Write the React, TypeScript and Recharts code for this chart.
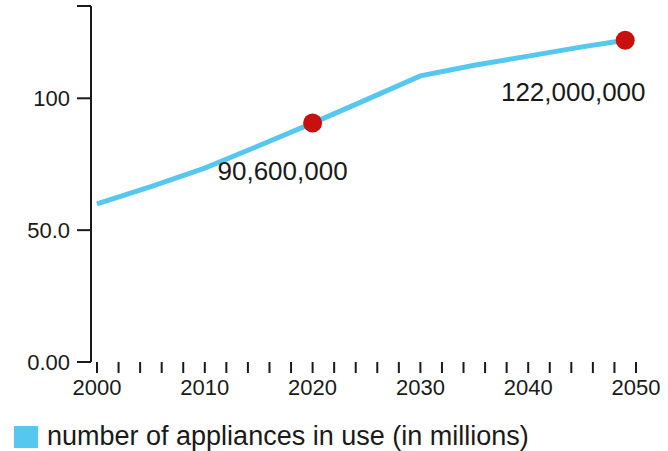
import { LineChart, Line, XAxis, YAxis, Legend } from 'recharts';

// appliances in use, millions
const years = [2000, 2005, 2010, 2015, 2020, 2025, 2030, 2035, 2040, 2045, 2049];
const appliances = [60, 66.5, 73.5, 82, 90.6, 99.5, 108.5, 112.5, 116, 119.5, 122];

// years that get a marker and a value label
const highlightYears = [2020, 2049];

const xTicks = [
  2000, 2002, 2004, 2006, 2008, 2010, 2012, 2014, 2016, 2018, 2020, 2022, 2024,
  2026, 2028, 2030, 2032, 2034, 2036, 2038, 2040, 2042, 2044, 2046, 2048, 2050,
];
const yTicks = [0, 50, 100, 135];

const seriesName = 'number of appliances in use (in millions)';
const lineColor = '#56c8ef';
const dotColor = '#c8100f';
const inkColor = '#1a1a1a';
const font = '"Liberation Sans", Arial, sans-serif';

const data = years.map((year, i) => ({ year, value: appliances[i] }));

// where each value label sits relative to its marker
const labelOffset: Record<number, [number, number]> = {
  2020: [-30, 57],
  2049: [-52, 61],
};

function HighlightDot(props: any) {
  const { cx, cy, payload } = props;
  if (!highlightYears.includes(payload.year)) return <g key={payload.year} />;
  const [dx, dy] = labelOffset[payload.year] || [0, 40];
  const full = Math.round(payload.value * 1e6).toLocaleString('en-US');
  return (
    <g key={payload.year}>
      <circle cx={cx} cy={cy} r={9.5} fill={dotColor} />
      <text
        x={cx + dx}
        y={cy + dy}
        textAnchor="middle"
        fontSize={26}
        fontFamily={font}
        fill={inkColor}
      >
        {full}
      </text>
    </g>
  );
}

function LegendBox() {
  return (
    <div
      style={{
        height: 39,
        boxSizing: 'border-box',
        paddingTop: 10,
        display: 'flex',
        alignItems: 'center',
        paddingLeft: 14,
        fontFamily: font,
        fontSize: 27,
        color: inkColor,
      }}
    >
      <span style={{ width: 24, height: 22, background: lineColor, marginRight: 9 }} />
      <span>{seriesName}</span>
    </div>
  );
}

export default function App() {
  return (
    <div style={{ position: 'absolute', left: 0, top: 0, background: '#fff' }}>
      <LineChart
        width={668}
        height={451}
        data={data}
        margin={{ top: 6, right: 32, bottom: 0, left: 0 }}
        style={{ fontFamily: font }}
      >
        <XAxis
          dataKey="year"
          type="number"
          domain={[2000, 2050]}
          ticks={xTicks}
          interval={0}
          padding={{ left: 6, right: 0 }}
          axisLine={false}
          tickSize={11}
          tickMargin={6}
          tickLine={{ stroke: inkColor, strokeWidth: 2 }}
          tick={{ fill: inkColor, fontSize: 22, fontFamily: font }}
          tickFormatter={(v: number) => (v % 10 === 0 ? String(v) : '')}
          height={50}
        />
        <YAxis
          domain={[0, 135]}
          ticks={yTicks}
          interval={0}
          width={91}
          tickSize={14}
          tickMargin={7}
          axisLine={{ stroke: inkColor, strokeWidth: 2 }}
          tickLine={{ stroke: inkColor, strokeWidth: 2 }}
          tick={{ fill: inkColor, fontSize: 22, fontFamily: font }}
          tickFormatter={(v: number) => (v === 135 ? '' : v.toPrecision(3))}
        />
        <Legend
          verticalAlign="bottom"
          align="left"
          content={() => <LegendBox />}
          wrapperStyle={{ margin: 0, padding: 0 }}
        />
        <Line
          dataKey="value"
          name={seriesName}
          type="linear"
          stroke={lineColor}
          strokeWidth={5}
          dot={HighlightDot}
          activeDot={false}
          isAnimationActive={false}
        />
      </LineChart>
    </div>
  );
}
